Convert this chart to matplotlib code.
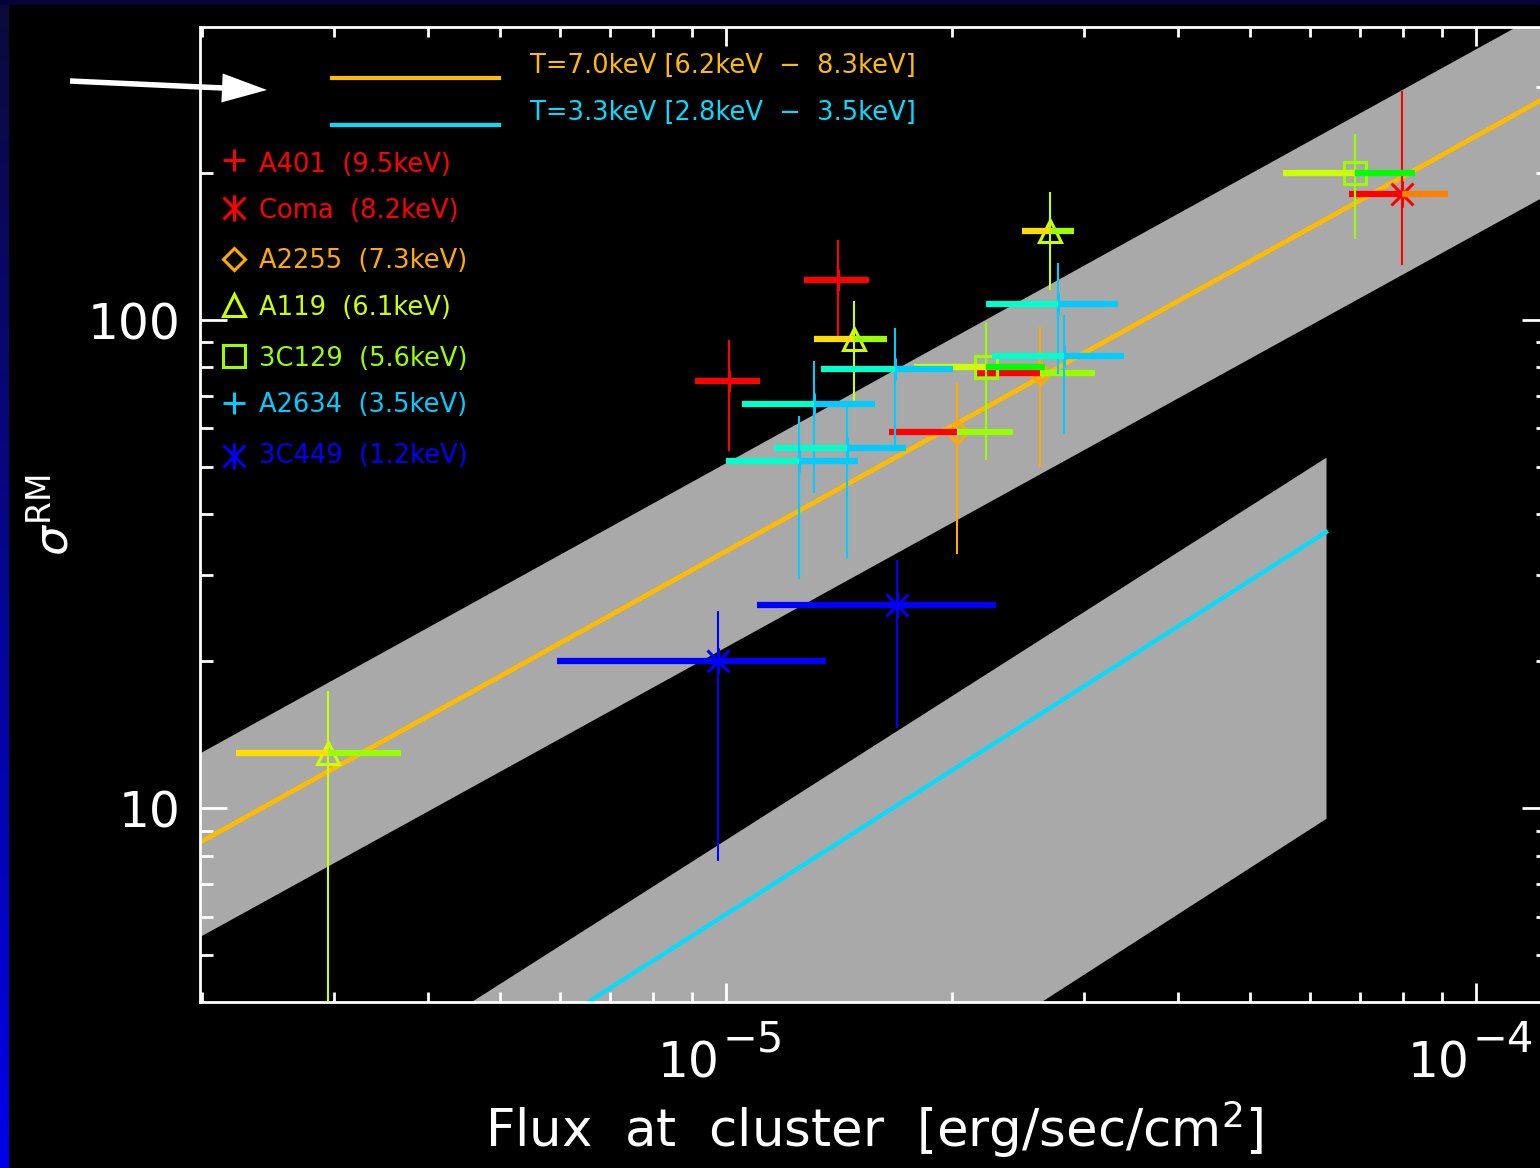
# RM dispersion against X-ray flux at the cluster, with model bands

import numpy as np
import matplotlib
matplotlib.use('Agg')
import matplotlib.pyplot as plt
from matplotlib.patches import FancyArrow, Rectangle
from matplotlib.path import Path
from matplotlib.transforms import IdentityTransform
from matplotlib.ticker import LogLocator, FuncFormatter, NullFormatter

plt.rcParams['font.family'] = ['DejaVu Sans']

# one entry per measurement
cluster = ['A401', 'A401', 'Coma', 'A2255', 'A2255', 'A119', 'A119', 'A119',
           '3C129', '3C129', 'A2634', 'A2634', 'A2634', 'A2634', 'A2634', 'A2634',
           '3C449', '3C449']
flux = [1.01e-5, 1.41e-5, 7.97e-5, 2.03e-5, 2.62e-5, 2.70e-5, 1.48e-5, 2.95e-6,
        2.22e-5, 6.90e-5, 1.68e-5, 1.31e-5, 1.45e-5, 1.25e-5, 2.77e-5, 2.82e-5,
        9.76e-6, 1.69e-5]
flux_lo = [9.09e-6, 1.27e-5, 6.77e-5, 1.65e-5, 2.16e-5, 2.48e-5, 1.31e-5, 2.22e-6,
           1.78e-5, 5.53e-5, 1.34e-5, 1.05e-5, 1.16e-5, 1.00e-5, 2.22e-5, 2.26e-5,
           5.95e-6, 1.10e-5]
flux_hi = [1.11e-5, 1.55e-5, 9.18e-5, 2.41e-5, 3.10e-5, 2.91e-5, 1.64e-5, 3.69e-6,
           2.66e-5, 8.29e-5, 2.01e-5, 1.58e-5, 1.74e-5, 1.50e-5, 3.33e-5, 3.39e-5,
           1.36e-5, 2.29e-5]
sigma = [75.0, 121, 181, 59.0, 77.9, 152, 91.4, 13.0,
         80.1, 200, 79.4, 67.3, 54.7, 51.4, 108, 84.4,
         20.0, 26.1]
sigma_lo = [54.2, 92.7, 130, 33.3, 50.2, 116, 68.6, 2.0,
            51.9, 147, 54.2, 44.4, 32.7, 29.6, 77.9, 58.7,
            7.83, 14.7]
sigma_hi = [90.6, 145, 293, 73.9, 96.3, 182, 109, 17.3,
            98.6, 240, 95.9, 82.0, 66.3, 63.3, 130, 102,
            25.2, 32.1]

legend_names = ['A401', 'Coma', 'A2255', 'A119', '3C129', 'A2634', '3C449']
legend_temps = ['9.5', '8.2', '7.3', '6.1', '5.6', '3.5', '1.2']

# model lines are straight in log-log, so two end points each
hot_flux = [1.99e-6, 1.22e-4]
hot_mid = [8.52, 282]
hot_lo = [5.47, 178]
hot_hi = [13.0, 426]
cool_flux = [1.99e-6, 6.31e-5]
cool_mid = [1.25, 36.8]
cool_lo = [0.313, 9.54]
cool_hi = [1.78, 52.4]
model_labels = ['T=7.0keV [6.2keV  \u2212  8.3keV]', 'T=3.3keV [2.8keV  \u2212  3.5keV]']

x_decades = [1e-5, 1e-4]

# asterisk as a vertical stroke plus an X
asterisk = Path([(0, -1.2), (0, 1.2), (-1, -1), (1, 1), (-1, 1), (1, -1)],
                [Path.MOVETO, Path.LINETO] * 3)
style = {
    'A401':  dict(c='#ff0000', m='+', ms=16, left='#ff0000', right='#ff0000'),
    'Coma':  dict(c='#ff0000', m=asterisk, ms=19, left='#ff0000', right='#ff8000'),
    'A2255': dict(c='#ffaa00', m='D', ms=11.5, left='#ff0000', right='#99ff00'),
    'A119':  dict(c='#ccff00', m='^', ms=16.5, left='#ffdd00', right='#99ff00'),
    '3C129': dict(c='#99ff00', m='s', ms=16, left='#ccff00', right='#00ff00'),
    'A2634': dict(c='#00ccff', m='+', ms=16, left='#00ffcc', right='#00ccff'),
    '3C449': dict(c='#0000ff', m=asterisk, ms=19, left='#0000ff', right='#0000ff'),
}
hot_color = '#ffbb00'
cool_color = '#00ddff'
band_color = '#a9a9a9'

fig = plt.figure(figsize=(15.4, 11.68), dpi=100, facecolor='black')

# slide border: dark band on top, blue gradient down the left side
strip = fig.add_axes([0, 0, 9 / 1540, 1])
grad = np.zeros((256, 1, 3))
t = np.linspace(0, 1, 256)[:, None]
grad[:, :, 0] = 0.04 * (1 - t)
grad[:, :, 1] = 0.04 * (1 - t)
grad[:, :, 2] = 0.23 + 0.69 * t
strip.imshow(grad, aspect='auto')
strip.axis('off')
fig.add_artist(Rectangle((0, 1 - 5 / 1168), 1, 5 / 1168, transform=fig.transFigure,
                         facecolor='#04043a', lw=0))

ax = fig.add_axes([200 / 1540, 1 - 1002 / 1168, 1349 / 1540, 975 / 1168])
ax.set_facecolor('black')
ax.set_xscale('log')
ax.set_yscale('log')
ax.set_xlim(1.9888e-6, 1.2512e-4)
ax.set_ylim(4.01, 398.5)

# model bands and central lines
ax.fill_between(hot_flux, hot_lo, hot_hi, color=band_color, lw=0, zorder=1)
ax.fill_between(cool_flux, cool_lo, cool_hi, color=band_color, lw=0, zorder=1)
ax.plot(hot_flux, hot_mid, color=hot_color, lw=3.4, zorder=2)
ax.plot(cool_flux, cool_mid, color=cool_color, lw=3.0, zorder=2)

# data points: two-coloured flux bar, thin sigma bar, open symbol
for i, name in enumerate(cluster):
    s = style[name]
    z = 3 + 0.05 * i
    ax.plot([flux[i], flux[i]], [sigma_lo[i], sigma_hi[i]], color=s['c'], lw=1.5, zorder=z)
    ax.plot(flux[i], sigma[i], marker=s['m'], ms=s['ms'], mfc='none', mec=s['c'],
            mew=2.2, ls='none', zorder=z + 0.01)
    ax.plot([flux_lo[i], flux[i]], [sigma[i], sigma[i]], color=s['left'], lw=4.5,
            solid_capstyle='butt', zorder=z + 0.02)
    ax.plot([flux[i], flux_hi[i]], [sigma[i], sigma[i]], color=s['right'], lw=4.5,
            solid_capstyle='butt', zorder=z + 0.02)

# model legend
for yl, yt, col, lab in zip([0.9477, 0.8995], [0.9528, 0.9046],
                            [hot_color, cool_color], model_labels):
    ax.plot([0.0979, 0.2216], [yl, yl], color=col, lw=3, transform=ax.transAxes,
            clip_on=False, zorder=6)
    ax.text(0.2446, yt, lab, color=col, fontsize=18.5, va='baseline', ha='left',
            transform=ax.transAxes)

# cluster legend
sym_y = [0.8636, 0.8144, 0.7621, 0.7149, 0.6626, 0.6144, 0.5600]
txt_y = [0.8513, 0.8041, 0.7528, 0.7046, 0.6523, 0.6051, 0.5528]
for name, temp, ys, yt in zip(legend_names, legend_temps, sym_y, txt_y):
    s = style[name]
    ax.plot(0.0252, ys, marker=s['m'], ms=s['ms'], mfc='none', mec=s['c'], mew=2.2,
            ls='none', transform=ax.transAxes, clip_on=False, zorder=6)
    ax.text(0.0437, yt, '%s  (%skeV)' % (name, temp), color=s['c'], fontsize=18.5,
            va='baseline', ha='left', transform=ax.transAxes)

# axes styling
for sp in ax.spines.values():
    sp.set_color('white')
    sp.set_linewidth(2)
ax.xaxis.set_major_locator(LogLocator(base=10, numticks=10))
ax.xaxis.set_minor_locator(LogLocator(base=10, subs=np.arange(2, 10), numticks=20))
ax.yaxis.set_major_locator(LogLocator(base=10, numticks=10))
ax.yaxis.set_minor_locator(LogLocator(base=10, subs=np.arange(2, 10), numticks=20))
ax.xaxis.set_major_formatter(NullFormatter())
ax.yaxis.set_major_formatter(FuncFormatter(lambda v, p: '%d' % round(v)))
ax.xaxis.set_minor_formatter(NullFormatter())
ax.yaxis.set_minor_formatter(NullFormatter())
ax.tick_params(which='both', direction='in', colors='white', width=2,
               top=True, right=True, labelsize=35)
ax.tick_params(axis='x', which='major', length=13.7)
ax.tick_params(axis='x', which='minor', length=7.2)
ax.tick_params(axis='y', which='major', length=19.4, pad=14)
ax.tick_params(axis='y', which='minor', length=9.4)

# x tick labels as 10 with a raised exponent
for v in x_decades:
    ax.annotate('10', xy=(v, 0), xycoords=('data', 'axes fraction'),
                xytext=(-6, -75), textcoords='offset pixels', ha='right',
                va='baseline', color='white', fontsize=35)
    ax.annotate('\u2212%d' % abs(round(np.log10(v))), xy=(v, 0),
                xycoords=('data', 'axes fraction'), xytext=(-3, -50),
                textcoords='offset pixels', ha='left', va='baseline',
                color='white', fontsize=30)

ax.set_xlabel('Flux  at  cluster  [erg/sec/cm$^{\\mathregular{2}}$]', color='white',
              fontsize=37, va='top')
ax.xaxis.set_label_coords(0.5, -0.0985)
ax.set_ylabel(r'$\sigma^{\mathregular{RM}}$', color='white', fontsize=34)
ax.yaxis.set_label_coords(-0.0905, 0.5)

# pointer arrow in the top left corner
fig.add_artist(FancyArrow(70, 1168 - 81, 197, -9, width=5.5, head_width=29,
                          head_length=45, length_includes_head=True,
                          color='white', lw=0, transform=IdentityTransform()))

fig.savefig('out.png', dpi=100, facecolor='black')
